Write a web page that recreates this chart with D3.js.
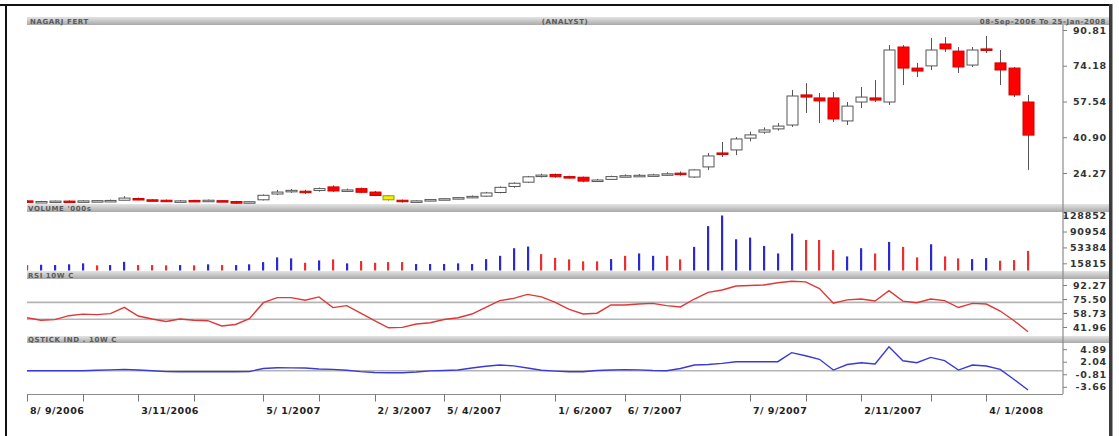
<!DOCTYPE html>
<html><head><meta charset="utf-8">
<script src="https://cdn.jsdelivr.net/npm/d3@7"></script>
<style>body{margin:0;background:#fff;overflow:hidden}svg{display:block;font-family:"DejaVu Sans",Verdana,sans-serif}</style>
</head><body><svg id="c" width="1119" height="436"></svg>
<script>
// ---------- DATA ----------
const opens  = [11.3,10.9,11.0,11.2,11.1,11.3,11.4,11.6,12.4,11.8,11.6,11.0,11.5,11.1,11.4,11.0,10.5,11.8,14.5,15.6,15.8,16.1,17.8,16.0,17.0,15.4,13.7,11.6,11.0,11.4,12.0,12.4,12.9,13.5,15.2,18.0,20.0,22.8,23.6,22.6,22.3,20.6,21.3,22.7,23.0,23.2,23.4,
  24.2,22.4,27.1,33.6,35.0,40.5,43.3,44.8,46.6,60.6,59.2,59.2,48.5,57.3,59.2,57.3,82.9,73.1,74.1,84.3,81.0,74.5,82.0,75.5,73.1,57.3];
const highs  = [11.6,11.3,11.4,11.5,11.6,11.7,11.9,13.5,12.8,12.1,11.9,11.7,11.8,11.9,11.7,11.3,11.1,14.3,16.4,16.8,16.4,17.5,18.5,17.0,17.5,15.9,14.0,11.9,11.5,12.1,12.6,13.0,13.8,15.5,18.0,19.9,22.9,23.9,24.0,23.0,22.6,21.5,23.0,23.6,23.8,23.9,24.6,
  25.0,26.0,33.6,38.7,41.0,43.5,45.5,47.5,62.9,66.1,61.5,62.0,57.3,64.3,67.5,83.8,83.8,75.5,87.1,87.5,82.9,82.9,88.0,81.5,73.6,60.6];
const lows   = [10.7,10.7,10.8,10.9,10.9,11.1,11.2,11.5,11.6,11.2,10.8,10.8,10.8,10.9,11.0,9.3,10.2,11.5,14.0,15.0,14.6,15.6,15.5,15.4,15.0,13.5,11.5,10.5,10.7,11.1,11.7,12.1,12.6,13.2,14.8,17.4,19.6,22.2,22.1,21.7,20.0,20.2,21.0,22.3,22.6,22.8,23.0,
  23.0,22.0,25.7,31.7,32.6,39.0,42.5,44.0,45.7,52.2,47.5,48.0,46.6,54.5,57.3,55.9,65.2,68.9,72.2,80.6,70.8,73.6,80.1,65.2,59.6,25.7];
const closes = [10.9,11.0,11.2,11.1,11.3,11.4,11.5,12.6,11.8,11.4,11.0,11.3,11.0,11.6,11.2,10.2,10.9,13.9,15.4,16.2,15.4,17.0,15.9,16.4,15.3,13.8,11.8,10.9,11.3,11.9,12.3,12.8,13.4,15.0,17.6,19.5,22.5,23.3,22.5,22.2,20.5,21.0,22.6,23.0,23.2,23.4,23.9,
  23.6,25.7,32.2,33.0,40.1,42.0,44.3,46.1,60.1,59.6,57.8,49.4,55.4,59.6,58.2,81.5,73.1,71.7,81.5,82.0,73.6,81.5,81.5,72.2,60.6,41.9];
const highlightWeeks = [26];

const volumes = [11700,12400,11700,13400,15700,11000,11700,19400,11700,11700,11000,11700,11000,13400,11700,11700,13400,18700,29800,27400,17100,22700,25100,15700,21100,17100,18700,
  18700,14100,14100,14100,15700,14100,25800,33500,51500,55500,37500,28800,25100,20400,20400,25800,33500,39100,33500,33500,25100,54600,103800,128852,72600,76600,56900,39100,86000,71000,71000,46900,32100,51500,39100,66300,54600,29800,60900,32100,27400,25800,28100,21800,23400,45200];
const volumeDir = "rbbbbrbbrrrbrbrbbbbbrbrbrrrrbbbbbbbbbrrrrrbrbbrrbbbbbbbbrrrbbrbrrbrrbbrrr".split("");

const rsi = [53.1,50.0,50.8,55.5,57.4,56.8,58.0,65.5,55.1,51.5,48.5,51.5,50.0,49.5,43.2,45.0,52.0,71.1,77.1,77.1,74.0,78.0,65.2,67.5,58.5,49.5,41.0,41.5,45.5,47.1,51.0,53.0,57.5,65.5,73.5,76.3,81.0,78.0,71.5,63.0,57.5,58.5,68.3,68.3,69.5,70.3,67.5,66.0,75.5,83.5,86.3,91.1,91.7,92.3,95.0,96.8,96.0,88.0,70.5,74.5,75.5,73.1,85.4,73.0,71.1,75.5,73.5,65.3,70.3,69.5,61.1,49.5,36.3];
const rsiBands = [71.5, 51.2];

const qstick = [0,0,0,0,0,0.1,0.2,0.3,0.15,0,-0.2,-0.23,-0.23,-0.23,-0.23,-0.23,-0.2,0.5,0.68,0.65,0.6,0.4,0.3,0.1,-0.2,-0.4,-0.45,-0.45,-0.3,-0.05,0.05,0.15,0.6,1.0,1.28,1.1,0.6,0.1,-0.1,-0.23,-0.23,0.05,0.15,0.25,0.2,0.05,0,0.5,1.3,1.4,1.67,2.05,2.05,2.05,2.05,4.1,3.4,2.6,0.15,1.4,1.82,1.52,5.45,2.27,1.82,3.03,2.3,0.15,1.29,1.06,0.3,-2.0,-4.4];
const qBands = [0];

const priceTicks = [90.81, 74.18, 57.54, 40.90, 24.27];
const volumeTicks = [128852, 90954, 53384, 15815];
const rsiTicks = [92.27, 75.50, 58.73, 41.96];
const qTicks = [4.89, 2.04, -0.81, -3.66];

const monthTickWeeks = [0,4,8,12,17,21,25,30,34,38,43,47,52,56,60,65,69];
const dateLabelWeeks = [0,8,17,25,30,38,43,52,60,69];
const dateLabels = ["8/ 9/2006","3/11/2006","5/ 1/2007","2/ 3/2007","5/ 4/2007","1/ 6/2007","6/ 7/2007","7/ 9/2007","2/11/2007","4/ 1/2008"];

const titleLeft = "NAGARJ FERT", titleMid = "(ANALYST)", titleRight = "08-Sep-2006 To 25-Jan-2008";
const panelTitles = ["VOLUME '000s", "RSI 10W C", "QSTICK IND . 10W C"];

// ---------- LAYOUT ----------
const svg = d3.select("#c");
const L = 27, R = 1063, FR = 1109;
const defs = svg.append("defs");
const g = defs.append("linearGradient").attr("id","band").attr("x1",0).attr("y1",0).attr("x2",0).attr("y2",1);
g.append("stop").attr("offset","0%").attr("stop-color","#e4e4e4");
g.append("stop").attr("offset","100%").attr("stop-color","#a9a9a9");

const panels = {
  price: {y0:25, y1:204},
  vol:   {y0:212, y1:271},
  rsi:   {y0:279, y1:336},
  q:     {y0:343, y1:393}
};
Object.entries(panels).forEach(([k,p])=>{
  defs.append("clipPath").attr("id","clip-"+k).append("rect").attr("x",L).attr("y",p.y0).attr("width",R-L).attr("height",p.y1-p.y0);
});

// bands
function band(y0,y1,x1){ svg.append("rect").attr("x",L).attr("y",y0).attr("width",x1-L).attr("height",y1-y0).attr("fill","url(#band)"); }
band(17,25,FR);
band(204,212,FR);
band(271,279,FR);
band(336,343,FR);

const bandText = (x,y,t,anchor)=>svg.append("text").attr("x",x).attr("y",y).attr("font-size",7).attr("font-weight","bold").attr("fill","#5a5a5a").attr("text-anchor",anchor||"start").attr("letter-spacing",0.6).text(t);
bandText(30,23.5,titleLeft);
bandText(565,23.5,titleMid,"middle");
bandText(1106,23.5,titleRight,"end");
bandText(28,210.5,panelTitles[0]);
bandText(28,277.5,panelTitles[1]);
bandText(28,341.5,panelTitles[2]);

// ---------- SCALES ----------
const x = d3.scaleLinear().domain([0,72]).range([27,1028]);
const yP = d3.scaleLinear().domain([24.27,90.81]).range([173,30]);
const yV = d3.scaleLinear().domain([0,128852]).range([270,215.5]);
const yR = d3.scaleLinear().domain([41.96,92.27]).range([327,285]);
const yQ = d3.scaleLinear().domain([-3.66,4.89]).range([386.8,349.2]);

// axis line on right
svg.append("line").attr("x1",R).attr("x2",R).attr("y1",25).attr("y2",394).attr("stroke","#8c8c8c").attr("stroke-width",1.2);

function rightAxis(scale, ticks, fmt){
  const gA = svg.append("g").attr("transform",`translate(${R},0)`);
  const ax = d3.axisRight(scale).tickValues(ticks).tickFormat(fmt).tickSize(4).tickPadding(40);
  gA.call(ax);
  gA.select(".domain").remove();
  gA.selectAll(".tick line").attr("stroke","#808080");
  gA.selectAll(".tick text").attr("text-anchor","end").attr("font-size",9.5).attr("font-weight","bold").attr("fill","#333").attr("letter-spacing",0.8).attr("font-family","DejaVu Sans, sans-serif");
}
rightAxis(yP, priceTicks, d=>d.toFixed(2));
rightAxis(yV, volumeTicks, d=>String(d));
rightAxis(yR, rsiTicks, d=>d.toFixed(2));
rightAxis(yQ, qTicks, d=>d.toFixed(2));

// ---------- CANDLES ----------
const cw = 11;
const cg = svg.append("g").attr("clip-path","url(#clip-price)");
const idx = d3.range(closes.length);
cg.selectAll("line.w").data(idx).join("line")
  .attr("x1",i=>Math.round(x(i))+0.5).attr("x2",i=>Math.round(x(i))+0.5)
  .attr("y1",i=>yP(highs[i])).attr("y2",i=>yP(lows[i]))
  .attr("stroke","#555").attr("stroke-width",1);
cg.selectAll("rect.b").data(idx).join("rect")
  .attr("x",i=>Math.round(x(i))-cw/2+0.5).attr("width",cw)
  .attr("y",i=>yP(Math.max(opens[i],closes[i])))
  .attr("height",i=>Math.max(1.5,Math.abs(yP(opens[i])-yP(closes[i]))))
  .attr("fill",i=>highlightWeeks.includes(i)?"#f2f000":(closes[i]<opens[i]?"#ff0000":"#ffffff"))
  .attr("stroke",i=>highlightWeeks.includes(i)?"#9a9a00":(closes[i]<opens[i]?"#d00000":"#555"))
  .attr("stroke-width",1);

// ---------- VOLUME ----------
const vg = svg.append("g").attr("clip-path","url(#clip-vol)");
vg.selectAll("rect").data(volumes).join("rect")
  .attr("x",(d,i)=>Math.round(x(i))-1).attr("width",2.2)
  .attr("y",d=>yV(d)).attr("height",d=>270.5-yV(d))
  .attr("fill",(d,i)=>volumeDir[i]==="b"?"#2a2ad0":"#e83030");

// ---------- RSI ----------
const rg = svg.append("g").attr("clip-path","url(#clip-rsi)");
rg.selectAll("line.band").data(rsiBands).join("line").attr("x1",L).attr("x2",R).attr("y1",d=>yR(d)).attr("y2",d=>yR(d)).attr("stroke","#b4b4b4").attr("stroke-width",1.6);
rg.append("path").datum(rsi).attr("fill","none").attr("stroke","#e03838").attr("stroke-width",1.4)
  .attr("d",d3.line().x((d,i)=>x(i)).y(d=>yR(d)));

// ---------- QSTICK ----------
const qg = svg.append("g").attr("clip-path","url(#clip-q)");
qg.selectAll("line.band").data(qBands).join("line").attr("x1",L).attr("x2",R).attr("y1",d=>yQ(d)).attr("y2",d=>yQ(d)).attr("stroke","#b4b4b4").attr("stroke-width",1.6);
qg.append("path").datum(qstick).attr("fill","none").attr("stroke","#3a3ad8").attr("stroke-width",1.4)
  .attr("d",d3.line().x((d,i)=>x(i)).y(d=>yQ(d)));

// ---------- DATE AXIS ----------
const xa = svg.append("g").attr("transform","translate(0,394.5)");
xa.append("line").attr("x1",L).attr("x2",R).attr("stroke","#8c8c8c").attr("stroke-width",1.2);
xa.selectAll("line.t").data(monthTickWeeks).join("line").attr("x1",d=>Math.round(x(d))+0.5).attr("x2",d=>Math.round(x(d))+0.5).attr("y1",0).attr("y2",7).attr("stroke","#777");
xa.selectAll("text").data(dateLabelWeeks).join("text")
  .attr("x",d=>x(d)+3).attr("y",19).attr("font-size",9.5).attr("font-weight","bold").attr("fill","#222").attr("letter-spacing",0.5)
  .text((d,i)=>dateLabels[i]);

// ---------- FRAME ----------
svg.append("line").attr("x1",0).attr("x2",FR+2).attr("y1",5).attr("y2",5).attr("stroke","#111").attr("stroke-width",2);
svg.append("line").attr("x1",6).attr("x2",6).attr("y1",4).attr("y2",436).attr("stroke","#111").attr("stroke-width",2);
svg.append("rect").attr("x",FR).attr("y",4).attr("width",3.5).attr("height",432).attr("fill","#3c3c3c");
</script></body></html>
